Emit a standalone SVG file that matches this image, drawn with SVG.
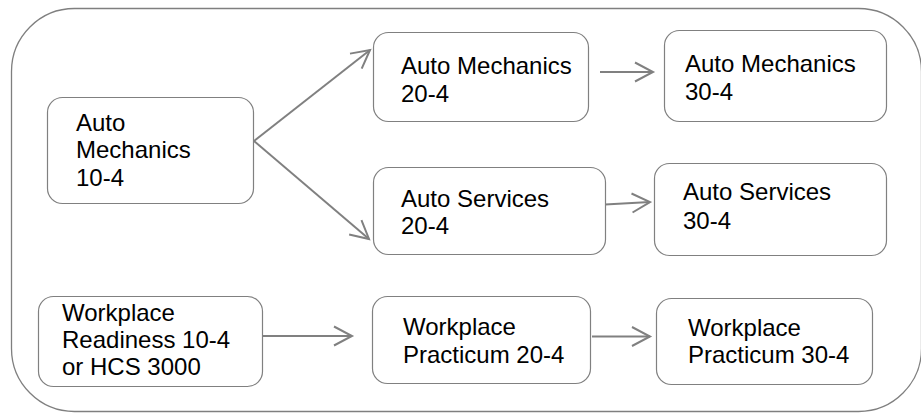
<svg xmlns="http://www.w3.org/2000/svg" width="921" height="414" viewBox="0 0 921 414">
<style>
.frame{fill:#fff;stroke:#7f7f7f;stroke-width:1.3}
.box{fill:#fff;stroke:#808080;stroke-width:1.2}
.lbl{font-family:"Liberation Sans",Arial,sans-serif;font-size:24px;fill:#000}
.conn{stroke:#808080;stroke-width:2;fill:none}
</style>
<defs>
<marker id="arr" markerUnits="userSpaceOnUse" markerWidth="26" markerHeight="26" viewBox="-22 -13 26 26" refX="0" refY="0" orient="auto" overflow="visible">
<path d="M-18,-9.5 L0,0 L-18,9.5" fill="none" stroke="#808080" stroke-width="2" stroke-linejoin="miter"/>
</marker>
</defs>
<rect width="921" height="414" fill="#fff"/>
<rect class="frame" x="11.5" y="8.5" width="910" height="403" rx="63" ry="63"/>
<g id="connectors">
<line class="conn" x1="254" y1="141" x2="370" y2="50" marker-end="url(#arr)"/>
<line class="conn" x1="254" y1="141" x2="369" y2="239" marker-end="url(#arr)"/>
<line class="conn" x1="600" y1="72" x2="653" y2="72" marker-end="url(#arr)"/>
<line class="conn" x1="605" y1="204.5" x2="650" y2="202" marker-end="url(#arr)"/>
<line class="conn" x1="263" y1="336" x2="352" y2="336" marker-end="url(#arr)"/>
<line class="conn" x1="592" y1="336.5" x2="650" y2="336.5" marker-end="url(#arr)"/>
</g>
<g id="n-am10">
<rect class="box" x="47.5" y="97.5" width="206" height="106" rx="15"/>
<text class="lbl" x="76"><tspan x="76" y="130.5">Auto</tspan><tspan x="76" y="158">Mechanics</tspan><tspan x="76" y="185.5">10-4</tspan></text>
</g>
<g id="n-am20">
<rect class="box" x="373.5" y="32.5" width="215" height="89" rx="15"/>
<text class="lbl"><tspan x="401" y="74">Auto Mechanics</tspan><tspan x="401" y="101.5">20-4</tspan></text>
</g>
<g id="n-am30">
<rect class="box" x="664.5" y="30.5" width="222" height="91" rx="15"/>
<text class="lbl"><tspan x="685" y="72">Auto Mechanics</tspan><tspan x="685" y="100">30-4</tspan></text>
</g>
<g id="n-as20">
<rect class="box" x="373.5" y="167.5" width="232" height="87" rx="15"/>
<text class="lbl"><tspan x="401" y="206.5">Auto Services</tspan><tspan x="401" y="234">20-4</tspan></text>
</g>
<g id="n-as30">
<rect class="box" x="654.5" y="163.5" width="232" height="92" rx="15"/>
<text class="lbl"><tspan x="683" y="200">Auto Services</tspan><tspan x="683" y="229">30-4</tspan></text>
</g>
<g id="n-wr10">
<rect class="box" x="38.5" y="296.5" width="224" height="90" rx="15"/>
<text class="lbl"><tspan x="62" y="321">Workplace</tspan><tspan x="62" y="348">Readiness 10-4</tspan><tspan x="62" y="375">or HCS 3000</tspan></text>
</g>
<g id="n-wp20">
<rect class="box" x="372.5" y="296.5" width="218" height="87" rx="15"/>
<text class="lbl"><tspan x="403" y="335">Workplace</tspan><tspan x="403" y="363">Practicum 20-4</tspan></text>
</g>
<g id="n-wp30">
<rect class="box" x="656.5" y="298.5" width="216" height="86" rx="15"/>
<text class="lbl"><tspan x="688" y="336">Workplace</tspan><tspan x="688" y="363">Practicum 30-4</tspan></text>
</g>
</svg>
